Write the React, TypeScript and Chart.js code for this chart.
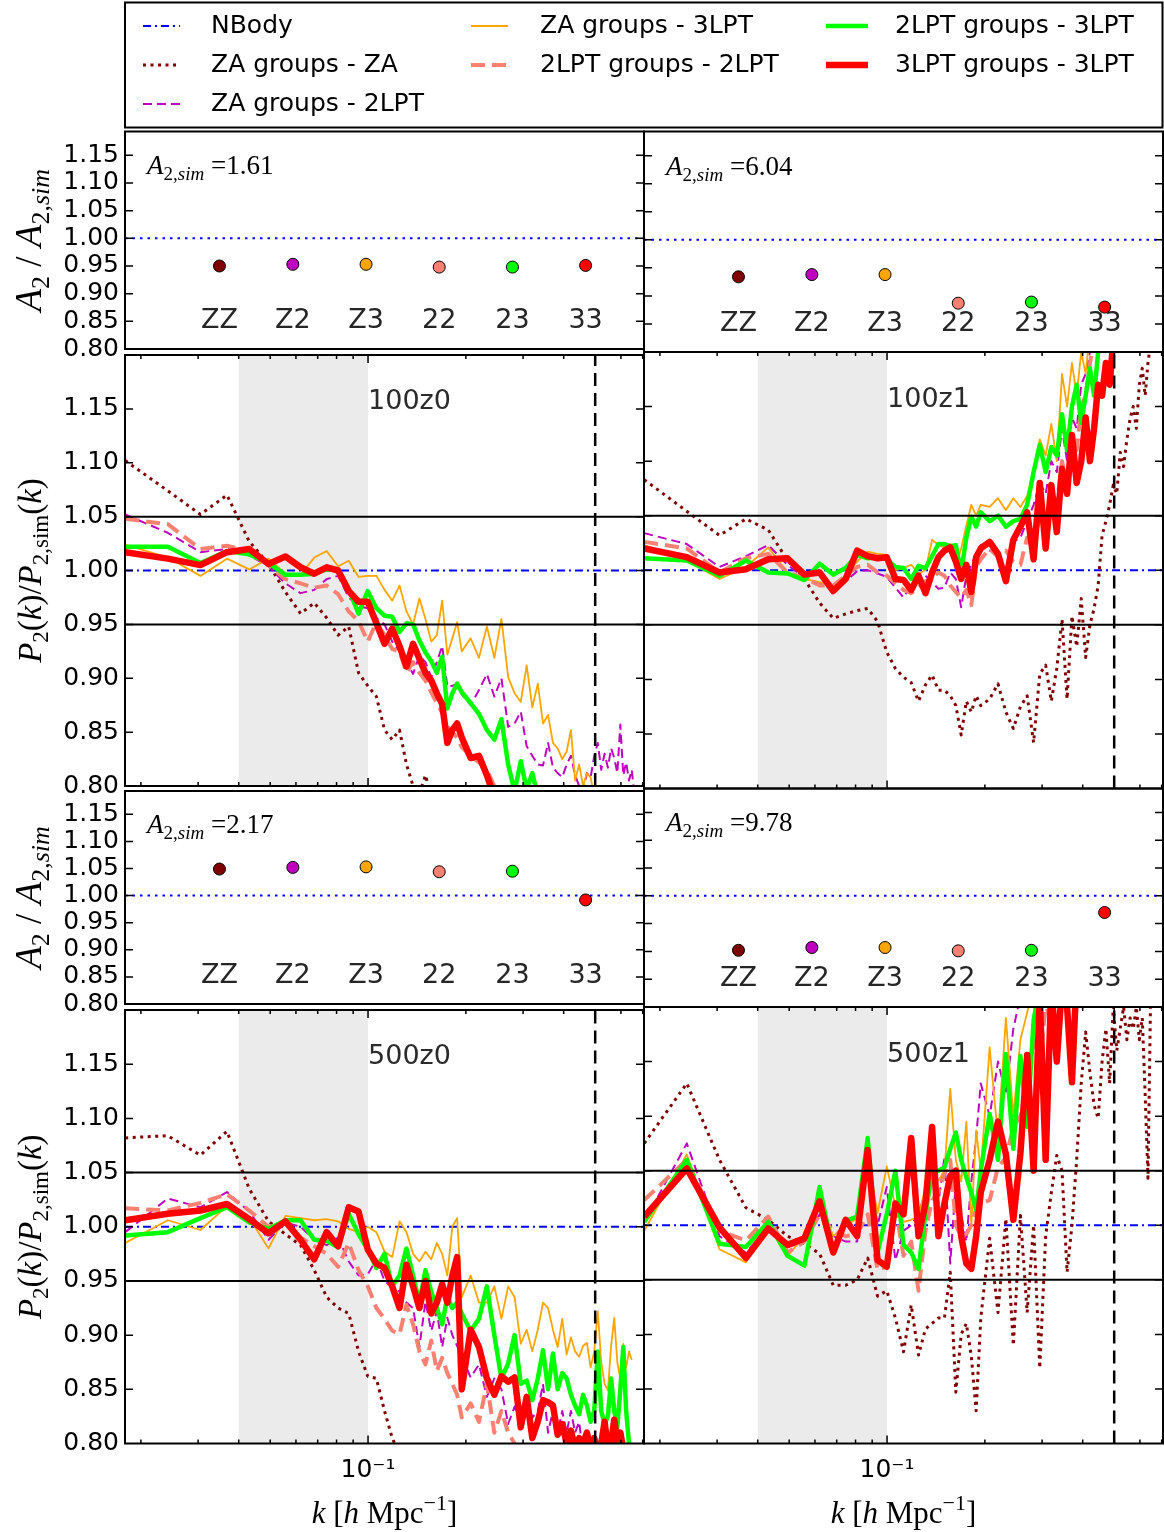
import React, { useEffect, useRef } from 'react';
import { Chart, registerables } from 'chart.js';

Chart.register(...registerables);

// ---------------------------------------------------------------------------
// k binning (h/Mpc) shared by all power-spectrum ratio curves
// ---------------------------------------------------------------------------
const kBins = [
  0.0179, 0.0242, 0.0305, 0.0368, 0.0431, 0.0494, 0.0557, 0.0620, 0.0683, 0.0746,
  0.0809, 0.0872, 0.0935, 0.0998, 0.1061, 0.1124, 0.1187, 0.1250, 0.1313, 0.1376,
  0.1439, 0.1502, 0.1565, 0.1628, 0.1691, 0.1754, 0.1817, 0.1880, 0.1943, 0.2069,
  0.2195, 0.2321, 0.2447, 0.2573, 0.2699, 0.2825, 0.2951, 0.3077, 0.3203, 0.3329,
  0.3455, 0.3581, 0.3707, 0.3833, 0.3959, 0.4085, 0.4211, 0.4337, 0.4463, 0.4589,
  0.4715, 0.4841, 0.4967, 0.5093, 0.5219, 0.5345, 0.5471, 0.5597, 0.5723, 0.5849,
  0.5975, 0.6101, 0.6227, 0.6353, 0.6479, 0.6605, 0.6731, 0.6857, 0.6983,
];

const K_MIN = 0.01787;
const K_MAX = 0.7066;
const kTickValues = [0.02, 0.03, 0.04, 0.05, 0.06, 0.07, 0.08, 0.09, 0.1, 0.2, 0.3, 0.4, 0.5, 0.6, 0.7];
const kMajorTick = 0.1;
const fitRange = [0.04, 0.1];
const kCut = 0.5;
const toleranceBand = [0.95, 1.05];

const seriesLabels = [
  'NBody',
  'ZA groups - ZA',
  'ZA groups - 2LPT',
  'ZA groups - 3LPT',
  '2LPT groups - 2LPT',
  '2LPT groups - 3LPT',
  '3LPT groups - 3LPT',
];

// N-body reference ratio
const nbodyK = [K_MIN, K_MAX];
const nbodyRatio = [1.0, 1.0];

// ---------------------------------------------------------------------------
// P2(k)/P2,sim(k): box 100, z = 0
// ---------------------------------------------------------------------------
const ratio100z0_ZZ = [1.102, 1.074, 1.052, 1.070, 1.027, 1.006, 0.980, 0.960, 0.970, 0.956, 0.940, 0.948, 0.905, 0.893, 0.883, 0.852, 0.843, 0.852, 0.820, 0.800, 0.793, 0.810, 0.790];
const ratio100z0_Z2 = [1.052, 1.035, 1.017, 1.020, 1.014, 1.004, 0.988, 0.979, 0.982, 0.992, 0.995, 0.975, 0.967, 0.965, 0.956, 0.950, 0.934, 0.925, 0.915, 0.904, 0.921, 0.915, 0.901, 0.915, 0.930, 0.892, 0.893, 0.895, 0.885, 0.875, 0.889, 0.904, 0.883, 0.900, 0.855, 0.858, 0.869, 0.837, 0.828, 0.820, 0.819, 0.840, 0.817, 0.812, 0.808, 0.820, 0.828, 0.810, 0.800, 0.795, 0.812, 0.808, 0.828, 0.840, 0.815, 0.830, 0.817, 0.835, 0.826, 0.812, 0.857, 0.810, 0.822, 0.805, 0.815, 0.790];
const ratio100z0_Z3 = [1.024, 1.012, 0.995, 1.011, 1.001, 1.011, 0.997, 0.996, 1.012, 1.018, 1.004, 1.009, 0.994, 0.995, 0.995, 0.982, 0.972, 0.986, 0.962, 0.950, 0.974, 0.955, 0.934, 0.940, 0.972, 0.922, 0.937, 0.952, 0.925, 0.937, 0.919, 0.948, 0.919, 0.955, 0.901, 0.886, 0.878, 0.912, 0.873, 0.895, 0.858, 0.866, 0.840, 0.835, 0.825, 0.832, 0.852, 0.805, 0.820, 0.800, 0.812, 0.808, 0.790];
const ratio100z0_22 = [1.048, 1.043, 1.020, 1.023, 1.018, 1.005, 0.992, 0.988, 0.984, 0.986, 0.978, 0.962, 0.953, 0.934, 0.952, 0.940, 0.927, 0.925, 0.905, 0.915, 0.905, 0.898, 0.887, 0.877, 0.868, 0.855, 0.850, 0.845, 0.836, 0.828, 0.822, 0.815, 0.800, 0.790];
const ratio100z0_23 = [1.022, 1.022, 1.007, 1.018, 1.015, 1.007, 0.996, 0.996, 0.997, 1.001, 1.001, 0.983, 0.960, 0.981, 0.965, 0.958, 0.957, 0.943, 0.951, 0.950, 0.935, 0.924, 0.916, 0.905, 0.920, 0.872, 0.886, 0.895, 0.887, 0.877, 0.867, 0.852, 0.843, 0.862, 0.820, 0.795, 0.823, 0.797, 0.812, 0.790];
const ratio100z0_33 = [1.017, 1.011, 1.005, 1.017, 1.020, 1.006, 1.013, 1.003, 0.997, 1.003, 1.000, 0.981, 0.971, 0.971, 0.951, 0.932, 0.946, 0.930, 0.911, 0.932, 0.918, 0.905, 0.898, 0.886, 0.876, 0.840, 0.852, 0.858, 0.845, 0.826, 0.828, 0.810, 0.790];

// ---------------------------------------------------------------------------
// box 100, z = 1
// ---------------------------------------------------------------------------
const ratio100z1_ZZ = [1.083, 1.054, 1.032, 1.047, 1.037, 1.009, 0.992, 0.970, 0.956, 0.960, 0.963, 0.965, 0.953, 0.925, 0.910, 0.902, 0.897, 0.880, 0.895, 0.904, 0.890, 0.890, 0.885, 0.876, 0.849, 0.880, 0.870, 0.885, 0.876, 0.882, 0.896, 0.870, 0.855, 0.875, 0.885, 0.842, 0.905, 0.913, 0.880, 0.910, 0.955, 0.882, 0.958, 0.930, 0.974, 0.920, 0.950, 0.965, 0.986, 1.032, 1.045, 1.060, 1.078, 1.070, 1.108, 1.095, 1.120, 1.139, 1.150, 1.130, 1.170, 1.185, 1.160, 1.190, 1.210];
const ratio100z1_Z2 = [1.034, 1.024, 1.003, 1.013, 1.023, 1.005, 0.993, 0.988, 0.983, 0.990, 0.999, 1.000, 0.997, 0.994, 0.984, 0.975, 0.986, 0.992, 0.995, 0.989, 0.983, 0.984, 0.998, 0.992, 0.966, 0.995, 1.005, 1.015, 1.023, 1.018, 1.020, 0.994, 1.026, 1.030, 1.045, 1.060, 1.080, 1.070, 1.100, 1.090, 1.130, 1.100, 1.140, 1.130, 1.170, 1.180, 1.200, 1.210];
const ratio100z1_Z3 = [1.023, 1.009, 0.992, 1.003, 1.021, 0.998, 0.992, 0.989, 0.986, 0.995, 1.008, 1.017, 1.015, 1.014, 1.000, 1.002, 1.005, 0.997, 1.000, 1.028, 1.023, 1.021, 1.024, 1.003, 1.020, 1.041, 1.060, 1.050, 1.060, 1.058, 1.066, 1.055, 1.066, 1.058, 1.068, 1.090, 1.120, 1.105, 1.134, 1.100, 1.180, 1.150, 1.190, 1.160, 1.200, 1.180, 1.220];
const ratio100z1_22 = [1.026, 1.020, 0.998, 1.011, 1.015, 0.998, 0.993, 0.986, 0.986, 0.995, 1.003, 1.005, 0.998, 0.995, 0.988, 0.982, 0.979, 0.984, 0.990, 0.993, 0.998, 0.995, 0.986, 0.980, 0.975, 0.982, 0.968, 1.003, 1.010, 1.020, 1.012, 1.018, 1.008, 1.005, 1.030, 1.020, 1.050, 1.040, 1.070, 1.060, 1.100, 1.080, 1.120, 1.110, 1.150, 1.160, 1.190, 1.210];
const ratio100z1_23 = [1.011, 1.009, 0.995, 1.009, 0.998, 0.997, 0.991, 1.006, 0.996, 1.002, 1.014, 1.011, 1.012, 1.010, 1.003, 1.002, 0.992, 1.004, 1.002, 1.013, 1.024, 1.024, 1.022, 1.023, 0.998, 1.030, 1.049, 1.040, 1.053, 1.045, 1.050, 1.040, 1.045, 1.047, 1.060, 1.090, 1.115, 1.090, 1.113, 1.105, 1.143, 1.110, 1.150, 1.170, 1.135, 1.160, 1.185, 1.160, 1.200, 1.220];
const ratio100z1_33 = [1.020, 1.012, 0.998, 1.001, 1.010, 1.011, 0.996, 0.998, 0.981, 0.992, 1.018, 1.013, 1.011, 1.012, 0.992, 0.991, 0.982, 0.995, 0.979, 0.998, 1.012, 1.018, 1.021, 1.008, 0.992, 1.005, 0.980, 1.012, 1.020, 1.026, 1.015, 0.990, 1.028, 1.040, 1.053, 1.010, 1.080, 1.020, 1.078, 1.035, 1.093, 1.070, 1.124, 1.080, 1.100, 1.140, 1.100, 1.130, 1.170, 1.160, 1.190, 1.170, 1.210];

// ---------------------------------------------------------------------------
// box 500, z = 0
// ---------------------------------------------------------------------------
const ratio500z0_ZZ = [1.082, 1.084, 1.066, 1.088, 1.035, 1.005, 0.993, 0.983, 0.960, 0.935, 0.925, 0.920, 0.885, 0.862, 0.860, 0.830, 0.805, 0.790];
const ratio500z0_Z2 = [0.995, 1.026, 1.018, 1.032, 1.014, 0.988, 1.004, 1.000, 0.988, 0.983, 0.990, 0.968, 0.955, 0.956, 0.970, 0.950, 0.944, 0.940, 0.930, 0.925, 0.889, 0.931, 0.904, 0.922, 0.889, 0.916, 0.900, 0.890, 0.880, 0.861, 0.873, 0.843, 0.860, 0.850, 0.818, 0.834, 0.820, 0.840, 0.824, 0.830, 0.855, 0.810, 0.830, 0.810, 0.830, 0.810, 0.830, 0.810, 0.820, 0.790];
const ratio500z0_Z3 = [0.985, 1.006, 0.997, 1.019, 1.008, 0.980, 1.010, 1.008, 1.006, 1.007, 1.005, 0.998, 0.995, 1.000, 0.995, 0.977, 0.972, 1.005, 0.995, 0.975, 0.968, 0.977, 0.970, 0.985, 0.975, 0.955, 1.000, 1.008, 0.935, 0.955, 0.930, 0.930, 0.945, 0.915, 0.945, 0.935, 0.892, 0.905, 0.885, 0.905, 0.930, 0.925, 0.905, 0.889, 0.915, 0.882, 0.898, 0.885, 0.880, 0.890, 0.893, 0.870, 0.885, 0.922, 0.875, 0.855, 0.849, 0.890, 0.916, 0.875, 0.860, 0.892, 0.870, 0.885, 0.877];
const ratio500z0_22 = [1.017, 1.015, 1.022, 1.030, 1.015, 1.000, 1.003, 0.990, 0.982, 0.975, 0.963, 0.985, 0.960, 0.945, 0.925, 0.915, 0.904, 0.901, 0.928, 0.910, 0.885, 0.873, 0.895, 0.867, 0.879, 0.865, 0.855, 0.845, 0.824, 0.837, 0.820, 0.855, 0.810, 0.830, 0.810, 0.800, 0.790];
const ratio500z0_23 = [0.992, 0.995, 1.008, 1.018, 1.004, 0.998, 1.006, 1.006, 0.988, 0.987, 0.981, 1.012, 0.993, 0.979, 0.962, 0.975, 0.945, 0.955, 0.980, 0.955, 0.930, 0.960, 0.940, 0.925, 0.910, 0.935, 0.925, 0.930, 0.920, 0.904, 0.915, 0.945, 0.900, 0.860, 0.874, 0.900, 0.855, 0.858, 0.840, 0.860, 0.886, 0.850, 0.883, 0.850, 0.865, 0.860, 0.845, 0.835, 0.827, 0.845, 0.835, 0.820, 0.830, 0.885, 0.830, 0.818, 0.825, 0.860, 0.830, 0.815, 0.850, 0.889, 0.830, 0.800, 0.790];
const ratio500z0_33 = [1.006, 1.012, 1.015, 1.021, 1.007, 0.994, 1.005, 0.988, 0.970, 0.995, 0.982, 1.018, 1.014, 0.979, 0.966, 0.962, 0.945, 0.925, 0.965, 0.945, 0.925, 0.950, 0.920, 0.930, 0.947, 0.930, 0.955, 0.972, 0.850, 0.905, 0.889, 0.860, 0.845, 0.862, 0.857, 0.861, 0.815, 0.843, 0.805, 0.820, 0.840, 0.838, 0.835, 0.808, 0.818, 0.800, 0.812, 0.795, 0.805, 0.800, 0.810, 0.795, 0.805, 0.790, 0.800, 0.820, 0.795, 0.800, 0.822, 0.800, 0.810, 0.795, 0.790];

// ---------------------------------------------------------------------------
// box 500, z = 1
// ---------------------------------------------------------------------------
const ratio500z1_ZZ = [1.075, 1.130, 1.060, 1.016, 1.005, 0.990, 0.983, 0.974, 0.945, 0.945, 0.950, 0.970, 0.935, 0.940, 0.915, 0.884, 0.927, 0.881, 0.905, 0.910, 0.915, 0.915, 0.957, 0.847, 0.900, 0.910, 0.880, 0.830, 0.915, 0.988, 0.920, 1.006, 0.890, 1.009, 0.920, 1.000, 0.869, 0.990, 1.030, 1.064, 1.050, 0.957, 1.000, 1.060, 1.130, 1.177, 1.140, 1.110, 1.098, 1.150, 1.180, 1.130, 1.200, 1.160, 1.180, 1.200, 1.170, 1.190, 1.180, 1.200, 1.170, 1.190, 1.120, 1.043, 1.220];
const ratio500z1_Z2 = [1.003, 1.075, 0.990, 0.975, 0.998, 0.980, 0.985, 1.010, 0.990, 0.985, 0.985, 1.060, 1.000, 1.035, 0.968, 0.995, 1.000, 1.011, 1.030, 1.045, 1.020, 1.063, 0.965, 1.040, 1.010, 0.985, 1.040, 1.080, 1.130, 1.100, 1.150, 1.120, 1.180, 1.210];
const ratio500z1_Z3 = [0.995, 1.065, 0.978, 0.966, 1.005, 0.972, 0.990, 1.022, 0.990, 1.000, 1.006, 1.060, 1.011, 1.054, 1.017, 1.003, 1.005, 1.008, 1.035, 1.047, 1.041, 1.050, 1.125, 1.060, 1.040, 1.095, 1.000, 1.087, 1.050, 1.163, 1.080, 1.190, 1.100, 1.170, 1.195, 1.220];
const ratio500z1_22 = [1.023, 1.060, 0.995, 0.986, 1.008, 0.975, 0.985, 1.010, 0.995, 0.990, 0.992, 1.010, 0.959, 0.962, 1.017, 0.972, 0.985, 0.940, 0.995, 1.023, 1.030, 1.047, 1.060, 1.000, 0.990, 0.992, 1.000, 1.015, 1.020, 1.023, 1.053, 1.062, 1.090, 1.100, 1.130, 1.170, 1.150, 1.200, 1.190, 1.160, 1.210];
const ratio500z1_23 = [1.003, 1.060, 0.983, 0.980, 1.003, 0.972, 0.963, 1.035, 0.975, 1.004, 1.008, 1.080, 0.975, 1.010, 1.050, 0.982, 0.975, 0.960, 1.011, 1.047, 1.050, 1.053, 1.070, 1.085, 1.060, 1.044, 1.030, 1.014, 1.050, 1.102, 1.060, 1.157, 1.070, 1.155, 1.090, 1.188, 1.220];
const ratio500z1_33 = [1.008, 1.052, 0.998, 0.970, 0.997, 0.982, 0.988, 1.022, 0.975, 1.005, 0.990, 1.069, 0.968, 0.962, 1.020, 1.010, 1.080, 0.990, 1.020, 1.090, 0.990, 1.020, 1.045, 1.050, 0.990, 0.965, 0.960, 0.990, 1.030, 1.060, 1.095, 1.065, 1.005, 1.066, 1.156, 1.050, 1.210, 1.060, 1.220, 1.150, 1.220, 1.200, 1.131, 1.230];

// ---------------------------------------------------------------------------
// A2 / A2,sim per group/displacement pairing
// ---------------------------------------------------------------------------
const pairCodes = ['ZZ', 'Z2', 'Z3', '22', '23', '33'];
const pairK = [0.0349, 0.0587, 0.0986, 0.1656, 0.2782, 0.4672];
const amp100z0 = [0.950, 0.953, 0.953, 0.948, 0.948, 0.951];
const amp100z1 = [0.934, 0.938, 0.938, 0.887, 0.889, 0.880];
const amp500z0 = [1.049, 1.052, 1.053, 1.044, 1.045, 0.992];
const amp500z1 = [0.902, 0.907, 0.907, 0.901, 0.902, 0.970];
const ampRefK = [K_MIN, K_MAX];
const ampRef = [1.0, 1.0];

// ---------------------------------------------------------------------------
// styles
// ---------------------------------------------------------------------------
const SERIES_STYLE = [
  { color: '#0000ff', width: 2, dash: [8, 4, 2, 4] },
  { color: '#7f0000', width: 3, dash: [3, 4.5] },
  { color: '#bf00bf', width: 2, dash: [9, 5] },
  { color: '#ffa500', width: 1.8, dash: [] as number[] },
  { color: '#fa8072', width: 4, dash: [14, 7] },
  { color: '#00ff00', width: 4.5, dash: [] as number[] },
  { color: '#ff0000', width: 6.5, dash: [] as number[] },
];
const DOT_COLORS = ['#7f0000', '#bf00bf', '#ffa500', '#fa8072', '#00ff00', '#ff0000'];

const SANS = 'DejaVu Sans';
const SERIF = 'Liberation Serif';
const PAGE_W = 1164;
const PAGE_H = 1532;

type Seg = { t: string; it?: boolean; sub?: boolean; sup?: boolean };

const AMP_TITLE: Seg[] = [
  { t: 'A', it: true }, { t: '2', sub: true }, { t: ' / ' }, { t: 'A', it: true },
  { t: '2,', sub: true }, { t: 'sim', sub: true, it: true },
];
const RATIO_TITLE: Seg[] = [
  { t: 'P', it: true }, { t: '2', sub: true }, { t: '(' }, { t: 'k', it: true }, { t: ')/' },
  { t: 'P', it: true }, { t: '2,sim', sub: true }, { t: '(' }, { t: 'k', it: true }, { t: ')' },
];
const X_TITLE: Seg[] = [
  { t: 'k', it: true }, { t: ' [' }, { t: 'h', it: true }, { t: ' Mpc' }, { t: '\u22121', sup: true }, { t: ']' },
];

function drawRich(ctx: CanvasRenderingContext2D, segs: Seg[], x: number, y: number, size: number, align: 'left' | 'center') {
  const fontOf = (s: Seg) =>
    `${s.it ? 'italic ' : ''}${s.sub || s.sup ? Math.round(size * 0.7) : size}px "${SERIF}"`;
  let total = 0;
  for (const s of segs) {
    ctx.font = fontOf(s);
    total += ctx.measureText(s.t).width;
  }
  let cx = align === 'center' ? x - total / 2 : x;
  ctx.textAlign = 'left';
  ctx.textBaseline = 'alphabetic';
  for (const s of segs) {
    ctx.font = fontOf(s);
    const dy = s.sub ? size * 0.22 : s.sup ? -size * 0.42 : 0;
    ctx.fillText(s.t, cx, y + dy);
    cx += ctx.measureText(s.t).width;
  }
}

// ---------------------------------------------------------------------------
// panel layout
// ---------------------------------------------------------------------------
type PanelSpec = {
  id: string;
  kind: 'amp' | 'ratio';
  col: 0 | 1;
  top: number;
  bottom: number;
  ymax: number;
  legend?: boolean;
  xAxis?: boolean;
  amps?: number[];
  aSim?: string;
  name?: string;
  series?: number[][];
};

const COL_X = [
  { left: 125, right: 644 },
  { left: 644, right: 1163 },
];

const PANELS: PanelSpec[] = [
  { id: 'a100z0', kind: 'amp', col: 0, top: 131.5, bottom: 352, ymax: 1.193, legend: true, amps: amp100z0, aSim: '1.61' },
  { id: 'a100z1', kind: 'amp', col: 1, top: 131.5, bottom: 352, ymax: 1.193, amps: amp100z1, aSim: '6.04' },
  { id: 'r100z0', kind: 'ratio', col: 0, top: 352, bottom: 788.5, ymax: 1.2, name: '100z0',
    series: [ratio100z0_ZZ, ratio100z0_Z2, ratio100z0_Z3, ratio100z0_22, ratio100z0_23, ratio100z0_33] },
  { id: 'r100z1', kind: 'ratio', col: 1, top: 352, bottom: 788.5, ymax: 1.2, name: '100z1',
    series: [ratio100z1_ZZ, ratio100z1_Z2, ratio100z1_Z3, ratio100z1_22, ratio100z1_23, ratio100z1_33] },
  { id: 'a500z0', kind: 'amp', col: 0, top: 788.5, bottom: 1007, ymax: 1.193, amps: amp500z0, aSim: '2.17' },
  { id: 'a500z1', kind: 'amp', col: 1, top: 788.5, bottom: 1007, ymax: 1.193, amps: amp500z1, aSim: '9.78' },
  { id: 'r500z0', kind: 'ratio', col: 0, top: 1007, bottom: 1443.5, ymax: 1.2, name: '500z0', xAxis: true,
    series: [ratio500z0_ZZ, ratio500z0_Z2, ratio500z0_Z3, ratio500z0_22, ratio500z0_23, ratio500z0_33] },
  { id: 'r500z1', kind: 'ratio', col: 1, top: 1007, bottom: 1443.5, ymax: 1.2, name: '500z1', xAxis: true,
    series: [ratio500z1_ZZ, ratio500z1_Z2, ratio500z1_Z3, ratio500z1_22, ratio500z1_23, ratio500z1_33] },
];

function geometry(p: PanelSpec) {
  const { left, right } = COL_X[p.col];
  const cl = p.col === 0 ? 0 : left - 6;
  const cr = p.col === 0 && !p.legend ? right + 6 : PAGE_W;
  const ct = p.legend ? 0 : Math.floor(p.top - 18);
  const cb = p.xAxis ? PAGE_H : Math.ceil(p.bottom + 18);
  return {
    left, right, cl, ct,
    cw: cr - cl,
    ch: cb - ct,
    pad: {
      left: p.col === 0 ? 0 : left - cl,
      right: cr - right,
      top: p.top - ct,
      bottom: p.xAxis ? 0 : cb - p.bottom,
    },
    yAxisWidth: left - cl,
    xAxisHeight: cb - p.bottom,
  };
}

function lineDataset(idx: number, ks: number[], ys: number[]) {
  const st = SERIES_STYLE[idx];
  return {
    label: seriesLabels[idx],
    data: ys.map((y, i) => ({ x: ks[i], y })),
    borderColor: st.color,
    backgroundColor: st.color,
    borderWidth: st.width,
    borderDash: st.dash,
    borderJoinStyle: 'round' as const,
    borderCapStyle: 'butt' as const,
    pointRadius: 0,
    pointHoverRadius: 0,
    tension: 0,
    fill: false,
    clip: 0,
    order: 6 - idx,
  };
}

function buildDatasets(p: PanelSpec) {
  if (p.kind === 'ratio') {
    const out: any[] = [lineDataset(0, nbodyK, nbodyRatio)];
    (p.series || []).forEach((ys, j) => out.push(lineDataset(j + 1, kBins, ys)));
    return out;
  }
  return [
    {
      label: 'reference',
      data: ampRef.map((y, i) => ({ x: ampRefK[i], y })),
      borderColor: '#0000ff',
      borderWidth: 2,
      borderDash: [2.5, 5],
      borderCapStyle: 'butt' as const,
      pointRadius: 0,
      tension: 0,
      clip: 0,
      order: 1,
    },
    {
      label: 'A2 ratio',
      data: (p.amps || []).map((y, i) => ({ x: pairK[i], y })),
      showLine: false,
      pointRadius: 6,
      pointHoverRadius: 6,
      pointBackgroundColor: DOT_COLORS,
      pointBorderColor: '#000',
      pointBorderWidth: 1,
      order: 0,
    },
  ];
}

function makeDecor(p: PanelSpec) {
  return {
    id: 'panelDecor',
    beforeDatasetsDraw(chart: any) {
      if (p.kind !== 'ratio') return;
      const { ctx, chartArea: a, scales } = chart;
      const x0 = scales.x.getPixelForValue(fitRange[0]);
      const x1 = scales.x.getPixelForValue(fitRange[1]);
      ctx.save();
      ctx.fillStyle = '#ebebeb';
      ctx.fillRect(x0, a.top, x1 - x0, a.bottom - a.top);
      ctx.restore();
    },
    afterDatasetsDraw(chart: any) {
      const { ctx, chartArea: a, scales } = chart;
      const xs = scales.x;
      const ys = scales.y;
      ctx.save();
      ctx.beginPath();
      ctx.rect(a.left, a.top, a.right - a.left, a.bottom - a.top);
      ctx.clip();
      if (p.kind === 'ratio') {
        // tolerance band
        ctx.strokeStyle = '#000';
        ctx.lineWidth = 2;
        ctx.setLineDash([]);
        for (const v of toleranceBand) {
          const y = ys.getPixelForValue(v);
          ctx.beginPath();
          ctx.moveTo(a.left, y);
          ctx.lineTo(a.right, y);
          ctx.stroke();
        }
        // k cut
        const xc = xs.getPixelForValue(kCut);
        ctx.lineWidth = 2.5;
        ctx.setLineDash([13, 7]);
        ctx.beginPath();
        ctx.moveTo(xc, a.bottom);
        ctx.lineTo(xc, a.top);
        ctx.stroke();
        ctx.setLineDash([]);
        // panel name
        ctx.fillStyle = '#2b2b2b';
        ctx.font = `27px "${SANS}"`;
        ctx.textAlign = 'left';
        ctx.textBaseline = 'alphabetic';
        ctx.fillText(p.name || '', xs.getPixelForValue(0.1), ys.getPixelForValue(1.15));
      } else {
        ctx.fillStyle = '#000';
        drawRich(
          ctx,
          [{ t: 'A', it: true }, { t: '2,', sub: true }, { t: 'sim', sub: true, it: true }, { t: ' =' + (p.aSim || '') }],
          xs.getPixelForValue(0.0209),
          ys.getPixelForValue(1.116),
          27,
          'left'
        );
        ctx.fillStyle = '#262626';
        ctx.font = `27px "${SANS}"`;
        ctx.textAlign = 'center';
        ctx.textBaseline = 'alphabetic';
        pairCodes.forEach((c, i) => {
          ctx.fillText(c, xs.getPixelForValue(pairK[i]), ys.getPixelForValue(0.838));
        });
      }
      ctx.restore();

      // frame and inward ticks
      ctx.save();
      ctx.strokeStyle = '#000';
      ctx.lineWidth = 1.5;
      ctx.setLineDash([]);
      for (const t of ys.ticks) {
        const v = t.value;
        const y = ys.getPixelForValue(v);
        if (y <= a.top + 1 || y >= a.bottom - 1) continue;
        if (Math.abs(Math.round(v * 20) - v * 20) > 1e-6) continue;
        ctx.beginPath();
        ctx.moveTo(a.left, y);
        ctx.lineTo(a.left + 8, y);
        ctx.moveTo(a.right, y);
        ctx.lineTo(a.right - 8, y);
        ctx.stroke();
      }
      if (p.kind === 'ratio') {
        for (const v of kTickValues) {
          const x = xs.getPixelForValue(v);
          if (x <= a.left + 1 || x >= a.right - 1) continue;
          const len = Math.abs(v - kMajorTick) < 1e-9 ? 8 : 4;
          ctx.beginPath();
          ctx.moveTo(x, a.top);
          ctx.lineTo(x, a.top + len);
          ctx.moveTo(x, a.bottom);
          ctx.lineTo(x, a.bottom - len);
          ctx.stroke();
        }
      }
      ctx.lineWidth = 2;
      ctx.strokeRect(a.left, a.top, a.right - a.left, a.bottom - a.top);
      ctx.restore();
    },
    afterDraw(chart: any) {
      const { ctx, chartArea: a } = chart;
      ctx.save();
      ctx.fillStyle = '#000';
      if (p.col === 0) {
        ctx.save();
        ctx.translate(a.left - 84, (a.top + a.bottom) / 2);
        ctx.rotate(-Math.PI / 2);
        if (p.kind === 'amp') drawRich(ctx, AMP_TITLE, 0, 0, 37, 'center');
        else drawRich(ctx, RATIO_TITLE, 0, 0, 33, 'center');
        ctx.restore();
      }
      if (p.xAxis) {
        drawRich(ctx, X_TITLE, (a.left + a.right) / 2, a.bottom + 79.5, 31, 'center');
      }
      if (p.legend) drawLegend(ctx);
      ctx.restore();
    },
  };
}

// figure legend: three columns, filled column by column
const LEGEND_COLS = [
  { h0: 143, h1: 180, tx: 211 },
  { h0: 471, h1: 508, tx: 540 },
  { h0: 826, h1: 868, tx: 895 },
];
const LEGEND_ROWS = [26, 65, 104];
const LEGEND_LAYOUT = [
  [0, 0], [0, 1], [0, 2],
  [1, 0], [1, 1],
  [2, 0], [2, 1],
];

function drawLegend(ctx: CanvasRenderingContext2D) {
  ctx.save();
  ctx.fillStyle = '#fff';
  ctx.fillRect(125, 2.5, 1037.5, 125);
  ctx.strokeStyle = '#000';
  ctx.lineWidth = 2;
  ctx.setLineDash([]);
  ctx.strokeRect(125, 2.5, 1037.5, 125);
  seriesLabels.forEach((label, i) => {
    const [c, r] = LEGEND_LAYOUT[i];
    const col = LEGEND_COLS[c];
    const y = LEGEND_ROWS[r];
    const st = SERIES_STYLE[i];
    ctx.strokeStyle = st.color;
    ctx.lineWidth = st.width;
    ctx.lineCap = 'butt';
    ctx.setLineDash(st.dash);
    ctx.beginPath();
    ctx.moveTo(col.h0, y);
    ctx.lineTo(col.h1, y);
    ctx.stroke();
    ctx.setLineDash([]);
    ctx.fillStyle = '#000';
    ctx.font = `25px "${SANS}"`;
    ctx.textAlign = 'left';
    ctx.textBaseline = 'middle';
    ctx.fillText(label, col.tx, y);
  });
  ctx.restore();
}

function buildConfig(p: PanelSpec, g: ReturnType<typeof geometry>): any {
  return {
    type: 'line',
    data: { datasets: buildDatasets(p) },
    options: {
      responsive: false,
      animation: false,
      devicePixelRatio: 1,
      events: [],
      layout: { padding: g.pad, autoPadding: false },
      plugins: { legend: { display: false }, tooltip: { enabled: false } },
      scales: {
        x: {
          type: 'logarithmic',
          min: K_MIN,
          max: K_MAX,
          display: !!p.xAxis,
          grid: { display: false, drawTicks: false },
          border: { display: false },
          ticks: {
            autoSkip: false,
            maxRotation: 0,
            minRotation: 0,
            padding: 12,
            color: '#000',
            font: { family: SANS, size: 25 },
            callback: (v: number) => (Math.abs(v - kMajorTick) < 1e-9 ? '10\u207B\u00B9' : ''),
          },
          afterFit: p.xAxis
            ? (s: any) => {
                s.height = g.xAxisHeight;
                s.paddingLeft = 0;
                s.paddingRight = 0;
              }
            : undefined,
        },
        y: {
          type: 'linear',
          min: 0.8,
          max: p.ymax,
          display: p.col === 0,
          grid: { display: false, drawTicks: false },
          border: { display: false },
          ticks: {
            stepSize: 0.05,
            includeBounds: false,
            autoSkip: false,
            padding: 6,
            color: '#000',
            font: { family: SANS, size: 25 },
            callback: (v: number) => (v > 1.16 ? '' : Number(v).toFixed(2)),
          },
          afterFit:
            p.col === 0
              ? (s: any) => {
                  s.width = g.yAxisWidth;
                }
              : undefined,
        },
      },
    },
    plugins: [makeDecor(p)],
  };
}

function Panel({ spec }: { spec: PanelSpec }) {
  const ref = useRef<HTMLCanvasElement>(null);
  const g = geometry(spec);
  useEffect(() => {
    if (!ref.current) return;
    const chart = new Chart(ref.current, buildConfig(spec, g));
    return () => chart.destroy();
  }, []);
  return (
    <canvas
      ref={ref}
      width={g.cw}
      height={g.ch}
      style={{ position: 'absolute', left: g.cl, top: g.ct, width: g.cw, height: g.ch }}
    />
  );
}

export default function App() {
  return (
    <div
      style={{
        position: 'absolute',
        left: 0,
        top: 0,
        width: PAGE_W,
        height: PAGE_H,
        background: '#fff',
        overflow: 'hidden',
      }}
    >
      {PANELS.map((p) => (
        <Panel key={p.id} spec={p} />
      ))}
    </div>
  );
}
